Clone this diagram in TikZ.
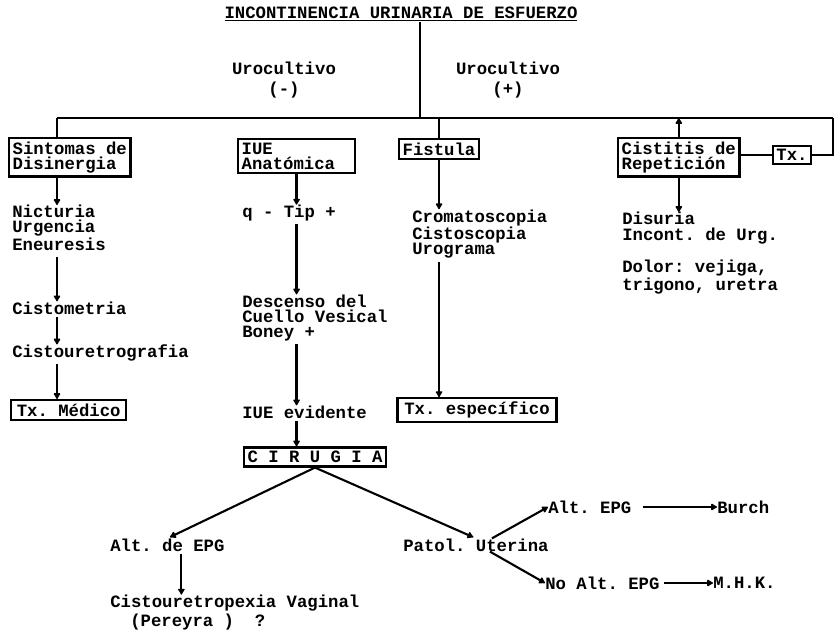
\documentclass[tikz,border=0pt]{standalone}
\usepackage{fontspec}
\setmonofont{Liberation Mono}
\usetikzlibrary{arrows.meta, positioning}
\begin{document}
\begin{tikzpicture}[
    x=0.025cm, y=-0.025cm,
    box/.style={rectangle, draw, line width=1.7pt, inner sep=2.5pt, align=left},
    txt/.style={inner sep=0pt, align=left, anchor=west},
    dep/.style={-{Latex[length=5pt, width=6pt, round]}, line width=1.5pt},
    link/.style={line width=1.5pt},
    font={\ttfamily\bfseries\fontsize{12.3pt}{10.8pt}\selectfont}]
\useasboundingbox (0,0) rectangle (838,642);
\node[txt, anchor=center] (title) at (401,14) {\underline{INCONTINENCIA URINARIA DE ESFUERZO}};
\node[txt, anchor=center, align=center] (uneg) at (284,80) {Urocultivo\\[3.5pt](-)};
\node[txt, anchor=center, align=center] (upos) at (508,80) {Urocultivo\\[3.5pt](+)};
\coordinate (jn) at (420,118);
\coordinate (bl) at (57,118);
\coordinate (br) at (833,118);
\node[box, anchor=north west] (sint) at (8,137) {Sintomas de\\Disinergia};
\node[box, anchor=north west, text width=78pt] (iue) at (237,138) {IUE\\Anatómica};
\node[box, anchor=north west] (fist) at (398,138) {Fistula};
\node[box, anchor=north west] (cist) at (617,137) {Cistitis de\\Repetición};
\node[box] (tx) at (792,155) {Tx.};
\node[txt] (sym) at (12,228) {Nicturia\\Urgencia\\Eneuresis};
\node[txt] (cmet) at (12,308) {Cistometria};
\node[txt] (cure) at (12,353) {Cistouretrografia};
\node[box, anchor=west, inner xsep=4pt] (txm) at (10,410) {Tx. Médico};
\node[txt] (qtip) at (242,213) {q - Tip +};
\node[txt] (desc) at (242,318) {Descenso del\\Cuello Vesical\\Boney +};
\node[txt] (iuev) at (242,412) {IUE evidente};
\node[box, anchor=center] (cir) at (315,457) {C I R U G I A};
\node[txt] (crom) at (412,234) {Cromatoscopia\\Cistoscopia\\Urograma};
\node[box, anchor=center, inner xsep=5pt] (txe) at (477,410) {Tx. específico};
\node[txt] (disu) at (622,228) {Disuria\\Incont. de Urg.};
\node[txt] (dol) at (622,277) {Dolor: vejiga,\\trigono, uretra};
\node[txt] (aldep) at (110,545) {Alt. de EPG};
\node[txt] (cvag) at (110,603) {Cistouretropexia Vaginal};
\node[txt] (pere) at (130,622) {(Pereyra )\ \ ?};
\node[txt] (patol) at (403,545) {Patol. Uterina};
\node[txt] (aepg) at (548,507) {Alt. EPG};
\node[txt] (burch) at (717,507) {Burch};
\node[txt] (naepg) at (545,583) {No Alt. EPG};
\node[txt] (mhk) at (713,583) {M.H.K.};
\coordinate (av) at ([xshift=0.35cm]aldep.south);
\coordinate (pu) at ([xshift=0.4cm]patol.north);
\coordinate (pl) at ([xshift=0.35cm]patol.south);
\draw[link] (title.south -| jn) -- (jn);
\draw[link] (bl) -- (br);
\draw[link] (bl) -- (bl |- sint.north);
\draw[link] (fist.north) -- (fist.north |- jn);
\draw[dep] (cist.north) -- (cist.north |- jn);
\draw[link] (cist.east |- tx) -- (tx.west);
\draw[link] (tx.east) -| (br);
\draw[dep] (sint.south -| bl) -- (sym.north -| bl);
\draw[dep, shorten <=4pt] (sym.south -| bl) -- (cmet.north -| bl);
\draw[dep, shorten <=2pt] (cmet.south -| bl) -- (cure.north -| bl);
\draw[dep, shorten <=2pt] (cure.south -| bl) -- (txm.north -| bl);
\draw[dep] (iue.south) -- (qtip.north -| iue.south);
\draw[dep, shorten <=2pt] (qtip.south -| iue.south) -- (desc.north -| iue.south);
\draw[dep, shorten <=2pt] (desc.south -| iue.south) -- (iuev.north -| iue.south);
\draw[dep, shorten <=2pt] (iuev.south -| iue.south) -- (cir.north -| iue.south);
\draw[dep] (fist.south) -- (crom.north -| fist.south);
\draw[dep, shorten <=2pt] (crom.south -| fist.south) -- (txe.north -| fist.south);
\draw[dep] (cist.south) -- (disu.north -| cist.south);
\draw[dep, shorten >=2pt] (cir.south) -- (aldep.north);
\draw[dep, shorten >=2pt] (cir.south) -- (patol.north);
\draw[dep, shorten <=2pt] (av) -- (av |- cvag.north);
\draw[dep] (pu) -- (aepg.west);
\draw[dep] (pl) -- (naepg.west);
\draw[dep, shorten <=8pt] (aepg.east) -- (burch.west);
\draw[dep, shorten <=3pt] (naepg.east) -- (mhk.west);
\end{tikzpicture}
\end{document}
